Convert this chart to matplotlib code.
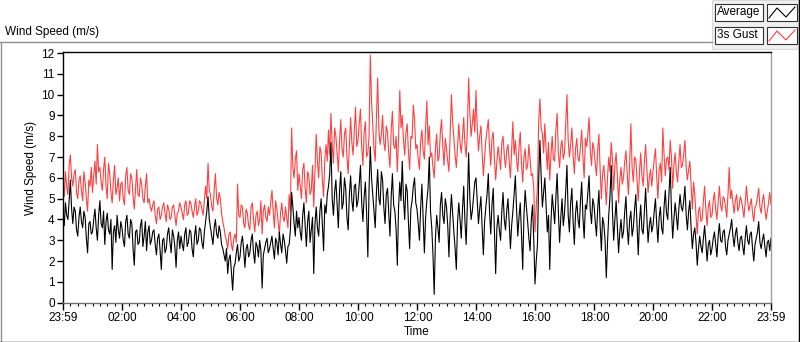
import numpy as np
import matplotlib
matplotlib.use("Agg")
import matplotlib.pyplot as plt
from matplotlib.lines import Line2D
from matplotlib.patches import Rectangle

plt.rcParams["font.family"] = ["Liberation Sans", "DejaVu Sans"]
plt.rcParams["font.size"] = 8.5

# samples every 5 min starting 23:59
avg = [
    4.3, 4.8, 4.0, 5.9, 3.8, 4.4, 3.2, 4.6, 3.6, 4.1, 2.4, 3.9,
    3.4, 4.5, 3.0, 4.9, 3.6, 2.8, 4.3, 3.3, 1.6, 3.7, 4.2, 3.1,
    3.6, 2.7, 4.2, 3.1, 3.8, 1.8, 3.5, 2.9, 4.0, 3.2, 2.5, 3.7,
    3.0, 3.5, 2.3, 3.3, 1.6, 3.1, 2.6, 3.6, 2.4, 3.2, 1.7, 3.4,
    3.2, 2.5, 3.6, 2.9, 3.4, 2.2, 3.7, 3.0, 3.5, 2.6, 3.9, 5.1,
    3.6, 2.8, 4.0, 3.1, 3.4, 2.6, 2.0, 1.4, 2.3, 0.6, 1.9, 2.8,
    2.2, 3.2, 1.7, 2.8, 2.4, 3.3, 1.9, 2.7, 3.0, 0.7, 2.6, 3.1,
    2.6, 3.2, 2.1, 2.9, 3.4, 2.4, 3.0, 1.9, 2.8, 5.3, 3.8, 4.4,
    4.1, 3.0, 4.8, 2.7, 4.4, 3.5, 1.4, 4.6, 3.2, 5.0, 2.5, 4.3,
    5.6, 7.7, 4.2, 5.9, 3.6, 6.3, 4.8, 5.5, 3.5, 6.1, 4.4, 5.7,
    4.9, 6.6, 3.9, 5.8, 2.2, 7.5, 5.2, 3.6, 6.4, 4.7, 5.9, 3.8,
    5.5, 3.2, 6.2, 4.4, 1.8, 5.8, 6.8, 4.0, 5.4, 2.6, 4.9, 6.0,
    4.5, 3.0, 5.7, 2.4, 4.9, 7.0, 3.6, 0.4, 4.2, 2.9, 5.3, 3.8,
    4.6, 2.2, 5.2, 3.4, 1.6, 4.8, 3.1, 5.6, 2.8, 7.2, 4.0, 5.1,
    6.0, 3.8, 5.1, 2.3, 4.6, 6.2, 3.3, 5.5, 1.4, 4.2, 3.0, 5.3,
    3.5, 5.0, 2.6, 4.4, 6.1, 3.2, 4.8, 1.6, 5.4, 3.9, 2.5, 4.7,
    0.9, 2.8, 7.8, 4.6, 6.0, 3.4, 1.6, 5.2, 3.8, 6.2, 2.9, 5.0,
    4.3, 6.6, 3.4, 5.5, 2.8, 4.9, 3.6, 5.8, 3.1, 4.5, 6.1, 3.8,
    4.7, 3.2, 5.4, 2.5, 3.8, 1.2, 4.2, 6.6, 3.0, 4.9, 2.4, 4.0,
    3.4, 5.1, 2.8, 4.4, 3.6, 5.2, 2.3, 4.7, 3.3, 5.5, 2.9, 4.1,
    3.7, 5.0, 2.9, 4.6, 3.3, 5.4, 4.0, 6.5, 3.1, 4.8, 3.5, 5.2,
    4.4, 5.6, 3.5, 4.9, 2.6, 3.6, 1.8, 3.2, 2.4, 3.7, 2.0, 3.0,
    2.6, 3.4, 2.2, 3.8, 2.9, 3.5, 2.3, 3.3, 4.0, 2.7, 3.6, 2.5,
    3.2, 2.3, 3.7, 2.8, 3.4, 2.0, 3.1, 3.9, 2.6, 3.3, 2.2, 3.0,
    3.1,
]
# in-between samples (2.5 min after each of the above)
avg_mid = [
    3.7, 4.2, 4.9, 4.5, 4.6, 3.5, 4.1, 3.9, 4.4, 3.1, 3.8, 3.3,
    4.0, 3.6, 4.2, 3.8, 4.4, 3.9, 3.5, 4.0, 3.4, 2.9, 3.5, 3.9,
    3.0, 3.9, 3.3, 4.0, 2.6, 3.4, 2.8, 3.7, 2.7, 3.9, 3.4, 2.8,
    3.4, 2.8, 3.1, 2.5, 3.0, 2.4, 3.3, 2.9, 3.5, 2.7, 3.0, 2.6,
    2.8, 3.3, 2.7, 3.5, 2.6, 3.2, 2.8, 3.6, 2.9, 3.4, 4.4, 4.0,
    3.2, 3.6, 3.3, 3.7, 2.8, 2.3, 2.6, 2.1, 1.5, 1.7, 2.4, 2.0,
    2.9, 2.5, 2.6, 2.2, 3.0, 2.4, 2.9, 2.2, 2.5, 2.3, 2.9, 2.4,
    2.9, 2.6, 3.1, 2.3, 2.8, 3.3, 2.5, 2.7, 3.5, 4.6, 3.2, 3.6,
    3.4, 4.2, 3.7, 3.9, 2.9, 4.1, 3.8, 3.6, 4.4, 3.8, 4.7, 5.2,
    6.2, 5.0, 5.3, 4.7, 5.4, 4.5, 6.0, 4.1, 5.2, 4.9, 5.6, 4.6,
    5.7, 4.8, 5.1, 4.3, 5.5, 6.0, 4.4, 5.3, 5.0, 6.3, 4.6, 5.2,
    4.3, 5.1, 4.7, 3.5, 4.6, 4.9, 5.0, 5.7, 3.9, 4.5, 5.6, 4.8,
    3.8, 4.6, 4.0, 4.1, 5.5, 4.4, 2.3, 3.1, 3.6, 4.7, 4.2, 5.0,
    3.7, 4.1, 4.3, 2.6, 3.9, 4.0, 4.5, 3.9, 4.8, 5.0, 4.4, 5.8,
    4.9, 4.5, 3.6, 3.9, 5.2, 4.4, 4.7, 3.4, 3.6, 3.5, 4.4, 4.0,
    4.4, 3.9, 3.7, 5.2, 4.5, 4.1, 3.3, 4.2, 4.6, 3.1, 4.0, 3.0,
    2.0, 5.9, 6.1, 5.3, 4.7, 4.2, 3.9, 4.5, 5.1, 4.4, 4.1, 3.7,
    5.4, 4.2, 4.8, 3.9, 4.3, 4.0, 4.9, 4.1, 4.7, 5.3, 4.4, 5.0,
    3.9, 4.5, 3.7, 4.1, 3.0, 2.9, 5.1, 4.4, 4.0, 3.6, 3.4, 3.1,
    4.4, 3.6, 4.0, 3.2, 4.5, 3.8, 3.9, 3.5, 4.4, 4.1, 3.7, 3.4,
    4.4, 3.8, 4.1, 3.6, 4.6, 4.3, 5.3, 4.5, 4.0, 4.2, 4.5, 4.6,
    4.9, 4.2, 4.4, 3.6, 3.3, 2.9, 2.6, 2.7, 3.1, 2.9, 2.8, 2.3,
    3.1, 2.8, 3.2, 3.0, 3.4, 2.7, 3.0, 3.6, 3.2, 3.3, 2.9, 3.1,
    2.7, 3.1, 3.0, 3.3, 2.6, 2.8, 3.4, 2.9, 3.0, 2.7, 2.9, 2.5,
]
gust = [
    5.9, 6.3, 5.2, 7.1, 5.6, 6.4, 5.0, 6.1, 4.9, 5.8, 4.4, 5.6,
    5.3, 6.8, 7.6, 6.5, 5.4, 7.0, 5.0, 6.2, 4.8, 6.6, 5.5, 4.9,
    5.8, 4.7, 6.5, 5.2, 6.0, 4.5, 6.4, 5.1, 5.7, 4.8, 6.2, 5.0,
    4.4, 4.9, 3.8, 4.6, 4.2, 4.8, 3.9, 4.5, 4.1, 4.7, 3.7, 4.4,
    4.6, 4.0, 4.9, 4.3, 4.8, 4.1, 5.0, 4.4, 4.8, 4.2, 5.6, 6.7,
    5.2, 4.4, 6.2, 4.7, 5.0, 3.9, 3.2, 2.6, 3.4, 2.5, 3.3, 5.7,
    4.1, 4.6, 3.6, 4.3, 3.5, 4.8, 3.4, 4.4, 4.0, 3.3, 4.7, 3.9,
    4.2, 5.4, 3.6, 4.5, 3.3, 4.8, 3.9, 4.1, 5.2, 8.4, 6.0, 7.3,
    6.2, 5.0, 6.7, 4.8, 6.1, 5.4, 4.6, 8.1, 6.0, 7.2, 5.1, 7.6,
    8.3, 9.1, 6.7, 8.0, 6.3, 8.8, 7.0, 8.4, 6.2, 8.9, 7.1, 9.4,
    7.8, 9.3, 6.6, 8.7, 7.2, 11.9, 8.5, 6.8, 10.8, 7.6, 9.0, 7.3,
    8.2, 6.5, 9.2, 7.4, 6.3, 10.2, 9.0, 7.1, 8.6, 6.4, 7.9, 8.8,
    7.6, 6.4, 8.3, 6.9, 9.7, 8.5, 7.2, 6.0, 8.1, 7.0, 8.8, 6.6,
    7.4, 6.3, 10.0, 7.9, 6.5, 8.6, 7.2, 8.9, 7.0, 10.8, 8.0, 9.3,
    10.2, 7.3, 8.5, 6.1, 7.8, 8.8, 6.6, 8.2, 5.9, 7.5, 6.4, 8.0,
    6.5, 7.6, 6.0, 8.7, 7.8, 6.3, 8.2, 5.8, 7.4, 6.6, 6.9, 6.2,
    3.4, 5.6, 9.8, 8.1, 8.6, 6.4, 5.9, 8.0, 6.8, 9.1, 6.5, 7.8,
    7.2, 10.0, 7.0, 8.4, 6.2, 7.9, 6.8, 8.3, 6.0, 7.5, 8.9, 6.6,
    7.4, 6.1, 8.1, 5.0, 6.6, 4.7, 7.0, 7.7, 5.4, 7.2, 4.8, 6.5,
    6.0, 7.3, 5.2, 8.6, 5.8, 6.9, 4.9, 7.2, 5.6, 7.6, 5.3, 6.4,
    6.3, 7.4, 5.0, 6.7, 8.4, 6.1, 7.0, 7.8, 5.5, 7.2, 5.8, 7.6,
    6.6, 7.8, 5.9, 6.8, 4.5, 5.2, 3.3, 4.6, 4.0, 5.6, 3.7, 4.9,
    4.2, 5.3, 4.0, 5.6, 4.4, 5.0, 4.1, 6.5, 5.4, 4.3, 5.2, 4.6,
    4.9, 4.1, 5.6, 4.4, 5.0, 3.9, 4.7, 5.5, 4.3, 5.2, 4.0, 4.8,
    4.7,
]
gust_mid = [
    5.1, 5.6, 6.6, 6.0, 6.2, 5.3, 5.9, 5.4, 6.3, 5.0, 5.9, 6.5,
    6.1, 5.7, 6.3, 5.8, 6.4, 5.6, 6.7, 5.3, 5.9, 5.2, 6.0, 5.7,
    5.0, 6.1, 5.4, 6.2, 5.1, 5.5, 5.2, 6.0, 5.0, 5.6, 4.8, 4.6,
    4.7, 4.2, 4.5, 4.0, 4.6, 4.3, 4.7, 4.0, 4.6, 4.2, 4.3, 4.8,
    4.3, 4.7, 4.2, 4.9, 4.4, 4.6, 4.2, 4.9, 4.5, 4.9, 5.0, 5.4,
    4.6, 5.4, 5.0, 5.3, 4.3, 3.6, 3.0, 3.3, 2.8, 3.1, 2.9, 4.2,
    4.7, 3.8, 4.5, 3.7, 4.6, 4.0, 4.2, 3.7, 4.9, 4.4, 4.1, 4.6,
    4.8, 4.4, 4.9, 3.9, 4.3, 4.1, 4.6, 3.6, 4.4, 6.5, 6.9, 5.4,
    5.6, 6.4, 5.5, 6.3, 5.2, 6.6, 6.4, 6.8, 7.5, 5.9, 6.9, 6.8,
    7.1, 7.6, 8.4, 7.2, 7.8, 7.4, 8.1, 7.0, 7.6, 7.7, 8.3, 7.5,
    8.6, 7.5, 8.2, 7.0, 8.0, 9.7, 7.4, 8.9, 8.3, 8.1, 7.7, 8.5,
    7.2, 8.3, 7.6, 8.0, 7.9, 8.4, 7.8, 8.2, 7.3, 8.0, 9.5, 7.4,
    6.9, 7.8, 7.3, 8.4, 7.6, 7.0, 6.5, 7.4, 6.8, 8.2, 7.5, 7.9,
    6.8, 8.1, 8.7, 7.1, 7.5, 7.7, 8.0, 7.6, 8.4, 9.1, 8.6, 8.2,
    8.4, 8.0, 7.2, 7.0, 8.3, 7.5, 7.9, 6.9, 6.8, 7.0, 7.7, 7.1,
    7.3, 6.8, 7.4, 7.1, 6.9, 7.5, 6.7, 7.0, 6.4, 7.6, 6.1, 5.5,
    4.6, 8.7, 8.4, 7.2, 7.4, 7.7, 7.1, 6.9, 8.3, 7.2, 7.5, 6.9,
    8.6, 7.8, 7.6, 7.1, 7.4, 6.9, 7.5, 7.0, 7.9, 8.1, 7.3, 7.7,
    6.7, 7.3, 6.4, 6.2, 5.8, 6.0, 6.3, 6.9, 6.6, 6.1, 5.9, 5.7,
    6.8, 6.2, 6.7, 6.5, 7.0, 5.9, 6.3, 6.1, 6.8, 6.4, 6.0, 5.6,
    6.9, 6.1, 6.4, 5.8, 7.1, 6.9, 6.4, 7.0, 6.6, 6.3, 6.8, 6.5,
    7.2, 6.5, 6.4, 5.6, 5.8, 4.2, 4.4, 3.9, 4.9, 4.5, 4.6, 4.1,
    4.9, 4.5, 4.8, 4.7, 5.1, 4.6, 5.2, 5.0, 4.8, 4.9, 4.4, 5.1,
    4.5, 4.8, 4.9, 4.7, 4.3, 4.6, 5.1, 4.6, 4.9, 4.5, 4.4, 5.3,
]

avg_all = np.empty(len(avg) + len(avg_mid))
avg_all[0::2] = avg
avg_all[1::2] = avg_mid
gust_all = np.empty(len(gust) + len(gust_mid))
gust_all[0::2] = gust
gust_all[1::2] = gust_mid
minutes = np.arange(len(avg_all)) * 2.5

tick_pos = [0, 121, 241, 361, 481, 601, 721, 841, 961, 1081, 1201, 1321, 1440]
tick_labels = ["23:59", "02:00", "04:00", "06:00", "08:00", "10:00", "12:00",
               "14:00", "16:00", "18:00", "20:00", "22:00", "23:59"]

W, H = 800, 342
fig = plt.figure(figsize=(W / 100, H / 100), dpi=100)
ax = fig.add_axes([63 / W, 1 - 302.7 / H, (771 - 63) / W, (302.7 - 52) / H])

ax.plot(minutes, gust_all, color="#ff4040", lw=0.8)
ax.plot(minutes, avg_all, color="black", lw=0.8)

ax.set_xlim(0, 1440)
ax.set_ylim(0, 12.05)
ax.set_yticks(range(0, 13))
ax.set_xticks(tick_pos)
ax.set_xticklabels(tick_labels)
ax.set_xticks(np.arange(15, 1440, 15), minor=True)
ax.tick_params(axis="both", direction="out", length=4, width=1, pad=2, labelsize=8.5)
ax.tick_params(axis="x", which="minor", length=2.5, width=0.8)
ax.tick_params(axis="x", which="major", length=5)

ax.spines["top"].set_color("black")
ax.spines["left"].set_color("black")
ax.spines["right"].set_color("#a0a0a0")
ax.spines["bottom"].set_color("#707070")
for s in ax.spines.values():
    s.set_linewidth(1)

ax.set_xlabel("Time", labelpad=1, fontsize=8.5)
ax.set_ylabel("Wind Speed (m/s)", fontsize=8.5)
ax.yaxis.set_label_coords(-0.037, 0.537)

# outer frame and title
fig.add_artist(Line2D([0, 712 / W], [1 - 42 / H] * 2, color="#909090", lw=1))
fig.add_artist(Line2D([1 / W] * 2, [0, 1 - 42 / H], color="#909090", lw=1))
fig.add_artist(Line2D([0, 1], [0.5 / H] * 2, color="black", lw=1))
fig.add_artist(Line2D([799 / W] * 2, [0, 1], color="black", lw=1))
fig.text(5 / W, 1 - 32.5 / H, "Wind Speed (m/s)", va="center", ha="left", fontsize=8.5)

# legend panel
fig.add_artist(Rectangle((712 / W, 1 - 49 / H), 86 / W, 49 / H, facecolor="#f0f0f0",
                         edgecolor="#d8d8d8", lw=0.8))
for i, (name, col) in enumerate([("Average", "black"), ("3s Gust", "#ff4040")]):
    y0 = 4 + i * 23
    fig.add_artist(Rectangle((715 / W, 1 - (y0 + 17) / H), 48 / W, 17 / H,
                             facecolor="white", edgecolor="#303030", lw=0.8))
    fig.add_artist(Rectangle((767 / W, 1 - (y0 + 17) / H), 30 / W, 17 / H,
                             facecolor="white", edgecolor="#303030", lw=0.8))
    fig.text(717 / W, 1 - (y0 + 8.5) / H, name, va="center", ha="left", fontsize=8.5)
    zx = np.array([769, 777, 786, 795]) / W
    zy = 1 - (y0 + np.array([14, 4, 13, 3])) / H
    fig.add_artist(Line2D(zx, zy, color=col, lw=0.8))

fig.savefig("out.png", dpi=100, facecolor="white")
